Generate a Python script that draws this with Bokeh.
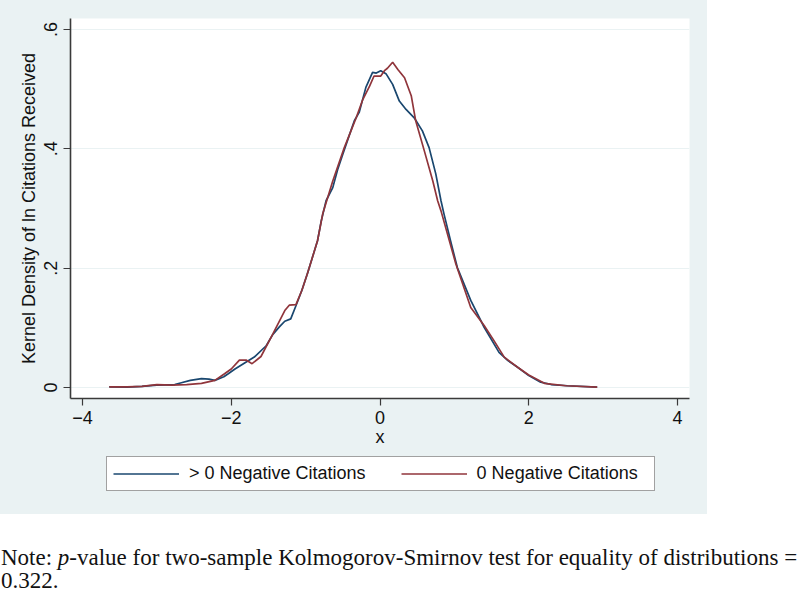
import numpy as np
from bokeh.plotting import figure
from bokeh.models import Range1d, FixedTicker, Legend, LegendItem, Div
from bokeh.layouts import column
from bokeh.embed import file_html
from bokeh.resources import INLINE

# ---- data ----
pos_x = [-3.64, -3.4, -3.2, -3.0, -2.76, -2.67, -2.55, -2.40, -2.30, -2.22, -2.10, -2.04,
         -1.95, -1.82, -1.69, -1.53, -1.44, -1.35, -1.28, -1.20, -1.13, -1.05, -0.97,
         -0.84, -0.79, -0.725, -0.635, -0.57, -0.50, -0.42, -0.345, -0.28, -0.19, -0.10,
         -0.05, 0.01, 0.08, 0.17, 0.26, 0.35, 0.46, 0.57, 0.66, 0.75, 0.82, 0.86, 0.95,
         1.04, 1.22, 1.40, 1.60, 1.72, 1.85, 2.0, 2.16, 2.3, 2.52, 2.92]
pos_y = [0.001, 0.0005, 0.002, 0.004, 0.005, 0.008, 0.012, 0.015, 0.014, 0.012, 0.018, 0.023,
         0.031, 0.041, 0.051, 0.070, 0.089, 0.102, 0.111, 0.115, 0.137, 0.163, 0.193,
         0.246, 0.279, 0.313, 0.335, 0.365, 0.391, 0.420, 0.447, 0.461, 0.503, 0.528,
         0.527, 0.531, 0.526, 0.508, 0.480, 0.466, 0.452, 0.430, 0.402, 0.358, 0.313, 0.291, 0.245,
         0.201, 0.146, 0.101, 0.059, 0.045, 0.034, 0.020, 0.009, 0.005, 0.003, 0.0006]

zero_x = [-3.64, -3.4, -3.2, -3.0, -2.8, -2.6, -2.40, -2.22, -2.09, -2.0, -1.89, -1.80,
          -1.72, -1.60, -1.44, -1.28, -1.22, -1.13, -1.05, -0.97, -0.84, -0.77, -0.635,
          -0.48, -0.32, -0.23, -0.14, -0.08, 0.01, 0.06, 0.10, 0.17, 0.24, 0.33, 0.42,
          0.48, 0.595, 0.71, 0.775, 0.82, 1.02, 1.22, 1.40, 1.53, 1.67, 1.85, 2.0, 2.21,
          2.5, 2.92]
zero_y = [0.001, 0.001, 0.002, 0.005, 0.004, 0.005, 0.007, 0.012, 0.023, 0.031, 0.046, 0.046,
          0.040, 0.052, 0.090, 0.129, 0.138, 0.139, 0.163, 0.193, 0.246, 0.291, 0.346,
          0.402, 0.452, 0.483, 0.505, 0.522, 0.522, 0.531, 0.535, 0.545, 0.533, 0.519, 0.489,
          0.447, 0.397, 0.346, 0.313, 0.296, 0.207, 0.134, 0.104, 0.079, 0.051, 0.034, 0.021, 0.007,
          0.003, 0.0005]

x_ticks = [-4, -2, 0, 2, 4]
y_ticks = [0, 0.2, 0.4, 0.6]
y_tick_labels = ["0", ".2", ".4", ".6"]
series_labels = ["> 0 Negative Citations", "0 Negative Citations"]
y_title = "Kernel Density of ln Citations Received"
x_title = "x"

BG = "#eaf2f3"
BLUE = "#1a476f"
RED = "#90353b"
AXC = "#3a3a3a"
FONT = "Liberation Sans"

p = figure(width=707, height=454, output_backend="svg", toolbar_location=None,
           x_range=Range1d(-4.161, 4.161), y_range=Range1d(-0.0184, 0.6184),
           min_border_left=70, min_border_right=18, min_border_top=18, min_border_bottom=56,
           background_fill_color="white", border_fill_color=BG, outline_line_color=None)

r1 = p.line(pos_x, pos_y, line_color=BLUE, line_width=1.7)
r2 = p.line(zero_x, zero_y, line_color=RED, line_width=1.7)

p.xgrid.visible = False
p.ygrid.ticker = FixedTicker(ticks=y_ticks)
p.ygrid.grid_line_color = BG
p.ygrid.grid_line_width = 1.2

for ax in (p.xaxis[0], p.yaxis[0]):
    ax.axis_line_color = AXC
    ax.axis_line_width = 1.6
    ax.major_tick_line_color = AXC
    ax.major_tick_line_width = 1.2
    ax.major_tick_out = 7
    ax.major_tick_in = 0
    ax.minor_tick_line_color = None
    ax.major_label_text_font = FONT
    ax.major_label_text_font_size = "18px"
    ax.major_label_text_color = "#111111"
    ax.axis_label_text_font = FONT
    ax.axis_label_text_font_size = "18px"
    ax.axis_label_text_font_style = "normal"
    ax.axis_label_text_color = "#111111"

p.xaxis.ticker = FixedTicker(ticks=x_ticks)
p.xaxis.axis_label = x_title
p.xaxis.major_label_standoff = 5
p.xaxis.axis_label_standoff = 0

p.yaxis.ticker = FixedTicker(ticks=y_ticks)
p.yaxis.major_label_overrides = {t: l for t, l in zip(y_ticks, y_tick_labels)}
p.yaxis.major_label_orientation = "vertical"
p.yaxis.axis_label = y_title
p.yaxis.major_label_standoff = 6
p.yaxis.axis_label_standoff = 3

# ---- legend strip (part of the graph region) ----
lg = figure(width=707, height=60, output_backend="svg", toolbar_location=None,
            x_axis_type=None, y_axis_type=None, min_border=0,
            x_range=Range1d(0, 1), y_range=Range1d(0, 1),
            background_fill_color=BG, border_fill_color=BG, outline_line_color=None)
lg.xgrid.visible = False
lg.ygrid.visible = False
d1 = lg.line(x=[np.nan], y=[np.nan], line_color=BLUE, line_width=1.7)
d2 = lg.line(x=[np.nan], y=[np.nan], line_color=RED, line_width=1.7)

legend = Legend(items=[LegendItem(label=series_labels[0], renderers=[d1]),
                       LegendItem(label=series_labels[1], renderers=[d2])],
                orientation="horizontal", location=(36, 23),
                padding=6, spacing=35, margin=0,
                glyph_width=66, glyph_height=21, label_height=21, label_width=171,
                label_standoff=10,
                label_text_font=FONT, label_text_font_size="18px", label_text_color="#111111",
                border_line_color="#444444", border_line_width=1.2,
                background_fill_color="white", background_fill_alpha=1.0)
lg.add_layout(legend, "center")

graph = column(p, lg, spacing=0, styles={"background-color": BG})

note = Div(width=807, height=76,
           text=('<div style="position:relative;left:-4px;top:27px;width:805px;white-space:nowrap;'
                 'font-family:\'Liberation Serif\';font-size:23px;line-height:23px;color:#111111">'
                 'Note: <i>p</i>-value for two-sample Kolmogorov-Smirnov test for equality of distributions =<br>'
                 '0.322.</div>'))

layout = column(graph, note, spacing=0)
open("out.html", "w").write(file_html(layout, INLINE))
